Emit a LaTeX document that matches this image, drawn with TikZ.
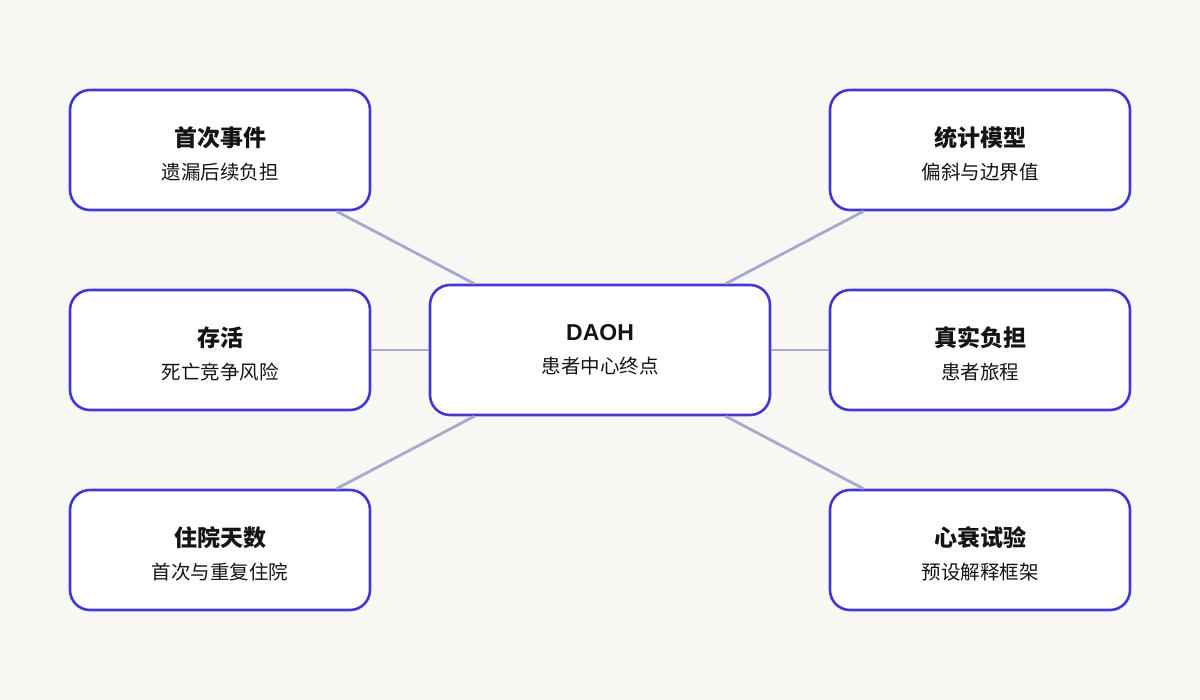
\documentclass[tikz,border=0pt]{standalone}
\usepackage{fontspec}
\setmainfont{Noto Sans CJK SC}
\newfontfamily\latinfont{Liberation Sans}
\definecolor{bgcol}{HTML}{F7F7F3}
\definecolor{edgecol}{HTML}{4338D2}
\definecolor{linkcol}{HTML}{AAA8CC}
\definecolor{inkcol}{HTML}{141414}
\tikzset{
  topic/.style={draw=edgecol,fill=white,line width=2.6pt,rounded corners=20pt,
    minimum width=300pt,minimum height=120pt,align=center,text=inkcol,inner sep=0pt},
  hub/.style={topic,minimum width=340pt,minimum height=130pt},
  link/.style={draw=linkcol,line width=2.8pt}
}
\newcommand{\boxtext}[3][13pt]{{\bfseries\fontsize{23}{27}\selectfont #2}\\[#1]{\fontsize{19.5}{23}\selectfont #3}}
\newcommand{\toptext}[2]{\boxtext{\rule{0pt}{28pt}#1}{#2}}
\begin{document}
\begin{tikzpicture}[x=1pt,y=-1pt]
  \fill[bgcol] (0,0) rectangle (1200,700);
  \useasboundingbox (0,0) rectangle (1200,700);
  % centre
  \node[hub] (daoh) at (600,350) {\boxtext[15pt]{\latinfont DAOH}{患者中心终点}};
  % left column
  \node[topic] (first) at (220,150) {\toptext{首次事件}{遗漏后续负担}};
  \node[topic] (surv) at (220,350) {\toptext{存活}{死亡竞争风险}};
  \node[topic] (stay) at (220,550) {\toptext{住院天数}{首次与重复住院}};
  % right column
  \node[topic] (stat) at (980,150) {\toptext{统计模型}{偏斜与边界值}};
  \node[topic] (real) at (980,350) {\toptext{真实负担}{患者旅程}};
  \node[topic] (hf) at (980,550) {\toptext{心衰试验}{预设解释框架}};
  \foreach \n in {first,surv,stay,stat,real,hf}
    \draw[link] (\n) -- (daoh);
\end{tikzpicture}
\end{document}
